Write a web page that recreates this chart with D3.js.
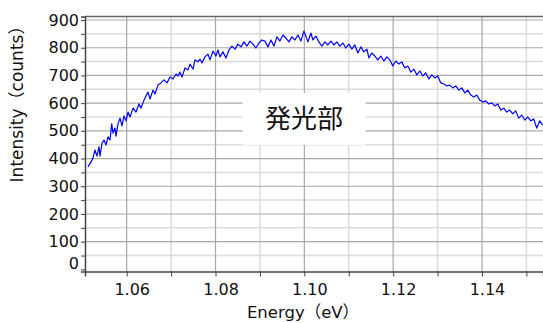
<!DOCTYPE html>
<html>
<head>
<meta charset="utf-8">
<script src="https://cdn.jsdelivr.net/npm/d3@7"></script>
<style>
  body { margin: 0; background: #fff; }
  text { font-family: "DejaVu Sans", "Noto Sans CJK JP", sans-serif; fill: #111; }
</style>
</head>
<body>
<div id="chart"></div>
<script>
const width = 543;
const height = 323;

// spectrum (energy in eV, intensity in counts)
const energy = [
  1.05129, 1.05196, 1.05241, 1.05286, 1.05331, 1.05376, 1.05399, 1.05444, 1.05489, 1.05534,
  1.05579, 1.05624, 1.05662, 1.05692, 1.05737, 1.05759, 1.05804, 1.05849, 1.05894, 1.05939,
  1.05984, 1.06029, 1.06074, 1.06142, 1.06209, 1.06277, 1.06322, 1.06390, 1.06435, 1.06480,
  1.06525, 1.06592, 1.06637, 1.06705, 1.06772, 1.06840, 1.06907, 1.06975, 1.07043, 1.07110,
  1.07155, 1.07200, 1.07245, 1.07313, 1.07380, 1.07425, 1.07493, 1.07538, 1.07605, 1.07650,
  1.07695, 1.07763, 1.07830, 1.07875, 1.07943, 1.08010, 1.08055, 1.08100, 1.08168, 1.08235,
  1.08303, 1.08370, 1.08438, 1.08505, 1.08573, 1.08640, 1.08708, 1.08775, 1.08843, 1.08910,
  1.08978, 1.09045, 1.09113, 1.09180, 1.09248, 1.09315, 1.09383, 1.09450, 1.09518, 1.09585,
  1.09653, 1.09720, 1.09788, 1.09855, 1.09923, 1.09990, 1.10035, 1.10080, 1.10148, 1.10193,
  1.10260, 1.10328, 1.10395, 1.10463, 1.10530, 1.10598, 1.10665, 1.10733, 1.10800, 1.10868,
  1.10935, 1.11003, 1.11070, 1.11138, 1.11205, 1.11273, 1.11340, 1.11408, 1.11453, 1.11520,
  1.11588, 1.11655, 1.11723, 1.11790, 1.11858, 1.11925, 1.11993, 1.12060, 1.12128, 1.12195,
  1.12263, 1.12330, 1.12398, 1.12465, 1.12533, 1.12600, 1.12668, 1.12735, 1.12803, 1.12870,
  1.12938, 1.13005, 1.13073, 1.13140, 1.13208, 1.13275, 1.13343, 1.13410, 1.13478, 1.13545,
  1.13613, 1.13680, 1.13748, 1.13815, 1.13883, 1.13950, 1.14018, 1.14085, 1.14153, 1.14220,
  1.14288, 1.14355, 1.14423, 1.14490, 1.14558, 1.14625, 1.14693, 1.14760, 1.14828, 1.14895,
  1.14963, 1.15030, 1.15098, 1.15165, 1.15233, 1.15300, 1.15368
];

const counts = [
  370, 388, 402, 431, 409, 442, 409, 456, 467, 449,
  478, 467, 525, 492, 510, 481, 525, 546, 518, 554,
  536, 568, 550, 582, 568, 597, 582, 611, 626, 640,
  615, 647, 633, 666, 673, 684, 673, 694, 687, 705,
  698, 712, 694, 727, 720, 741, 723, 756, 749, 759,
  745, 767, 777, 756, 788, 770, 792, 767, 785, 763,
  792, 806, 795, 813, 803, 821, 806, 824, 813, 799,
  817, 828, 824, 803, 828, 806, 839, 824, 846, 835,
  821, 839, 828, 846, 824, 860, 842, 821, 853, 828,
  842, 821, 806, 821, 810, 824, 810, 821, 806, 817,
  799, 813, 795, 810, 781, 803, 785, 795, 763, 781,
  770, 756, 770, 752, 767, 756, 734, 752, 741, 749,
  727, 734, 712, 723, 702, 716, 698, 709, 687, 702,
  691, 698, 673, 669, 662, 665, 655, 662, 647, 655,
  637, 647, 629, 622, 629, 611, 604, 608, 597, 601,
  590, 597, 575, 582, 568, 575, 561, 572, 546, 557,
  539, 550, 536, 543, 510, 536, 521
];

const xMajorTicks = [1.06, 1.08, 1.10, 1.12, 1.14];
const xMinorTicks = [1.07, 1.09, 1.11, 1.13, 1.15];
const yMajorTicks = [0, 100, 200, 300, 400, 500, 600, 700, 800, 900];
const yMinorTicks = [50, 150, 250, 350, 450, 550, 650, 750, 850];

const xTitle = "Energy（eV）";
const yTitle = "Intensity（counts）";
const label = "発光部";

const data = energy.map((e, i) => ({ e, c: counts[i] }));

const plotL = 85, plotT = 16.5, plotR = 543, plotB = 271.5;

const x = d3.scaleLinear().domain([1.05061, 1.15374]).range([plotL, plotR]);
const y = d3.scaleLinear().domain([-7.6, 912.7]).range([plotB, plotT]);

const svg = d3.select("#chart")
  .append("svg")
  .attr("width", width)
  .attr("height", height);

// grid
const grid = svg.append("g");
grid.selectAll("line.hmin")
  .data(yMinorTicks)
  .enter().append("line")
  .attr("x1", plotL).attr("x2", plotR)
  .attr("y1", d => y(d)).attr("y2", d => y(d))
  .attr("stroke", "#dcdcdc").attr("stroke-width", 1.5);
grid.selectAll("line.vmin")
  .data(xMinorTicks)
  .enter().append("line")
  .attr("x1", d => x(d)).attr("x2", d => x(d))
  .attr("y1", plotT).attr("y2", plotB)
  .attr("stroke", "#dcdcdc").attr("stroke-width", 1.5);
grid.selectAll("line.hmaj")
  .data(yMajorTicks.filter(d => d > 0))
  .enter().append("line")
  .attr("x1", plotL).attr("x2", plotR)
  .attr("y1", d => y(d)).attr("y2", d => y(d))
  .attr("stroke", "#a8a8a8").attr("stroke-width", 1.2);
grid.selectAll("line.vmaj")
  .data(xMajorTicks)
  .enter().append("line")
  .attr("x1", d => x(d)).attr("x2", d => x(d))
  .attr("y1", plotT).attr("y2", plotB)
  .attr("stroke", "#a8a8a8").attr("stroke-width", 1.2);

// top frame
svg.append("line")
  .attr("x1", plotL).attr("x2", plotR)
  .attr("y1", plotT).attr("y2", plotT)
  .attr("stroke", "#666").attr("stroke-width", 1.5);

// label box sits over the grid
const bx = x(1.0861), by = y(637), bw = 123, bh = 52;
svg.append("rect")
  .attr("x", bx).attr("y", by)
  .attr("width", bw).attr("height", bh)
  .attr("fill", "#fff");
svg.append("text")
  .attr("x", bx + bw / 2)
  .attr("y", by + bh / 2 + 9)
  .attr("text-anchor", "middle")
  .style("font-family", "'Noto Sans CJK JP', sans-serif")
  .style("font-size", "26px")
  .text(label);

// spectrum
const line = d3.line()
  .x(d => x(d.e))
  .y(d => y(d.c));

svg.append("path")
  .datum(data)
  .attr("d", line)
  .attr("fill", "none")
  .attr("stroke", "#0000ff")
  .attr("stroke-width", 1.2)
  .attr("stroke-linejoin", "round");

// axes
const xAxis = d3.axisBottom(x)
  .tickValues(xMajorTicks.concat(xMinorTicks))
  .tickSize(5)
  .tickFormat(d => xMajorTicks.includes(d) ? d3.format(".2f")(d) : "");

const gx = svg.append("g")
  .attr("transform", `translate(0,${plotB})`)
  .call(xAxis);
gx.select(".domain").attr("stroke", "#444").attr("stroke-width", 1.5);
gx.selectAll(".tick line").attr("stroke", "#444");
gx.selectAll(".tick text")
  .attr("dx", 5)
  .attr("y", 12)
  .style("font-size", "16px");

const yAxis = d3.axisLeft(y)
  .tickValues(yMajorTicks.concat(yMinorTicks))
  .tickSize(4)
  .tickFormat(d => yMajorTicks.includes(d) ? d : "");

const gy = svg.append("g")
  .attr("transform", `translate(${plotL},0)`)
  .call(yAxis);
gy.select(".domain").attr("stroke", "#444").attr("stroke-width", 1.5);
gy.selectAll(".tick line").attr("stroke", "#444");
gy.selectAll(".tick text")
  .attr("x", -6)
  .attr("dy", d => d === 0 ? "-0.05em" : "0.32em")
  .style("font-size", "16px");

// titles
svg.append("text")
  .attr("x", 303)
  .attr("y", 318)
  .attr("text-anchor", "middle")
  .style("font-size", "16.5px")
  .text(xTitle);

svg.append("text")
  .attr("transform", "translate(23,100) rotate(-90)")
  .attr("text-anchor", "middle")
  .style("font-size", "17px")
  .text(yTitle);
</script>
</body>
</html>
